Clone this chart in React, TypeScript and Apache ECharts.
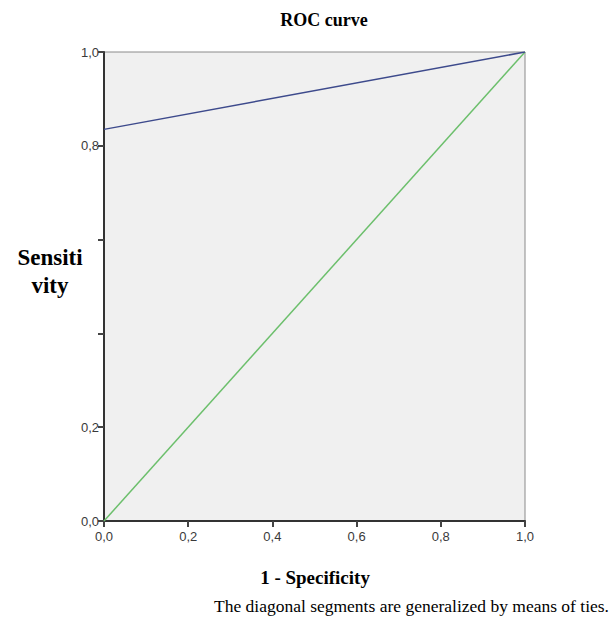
import React, { useEffect, useRef } from "react";
import * as echarts from "echarts";

const rocCurve: [number, number][] = [
  [0, 0.835],
  [1, 1],
];
const referenceLine: [number, number][] = [
  [0, 0],
  [1, 1],
];
const hiddenYLabels = [0.4, 0.6];

const fmt = (v: number) => v.toFixed(1).replace(".", ",");

export default function App() {
  const ref = useRef<HTMLDivElement>(null);
  useEffect(() => {
    if (!ref.current) return;
    const chart = echarts.init(ref.current, undefined, { renderer: "svg" });
    chart.setOption({
      animation: false,
      backgroundColor: "#ffffff",
      grid: {
        left: 104,
        right: 86,
        top: 52,
        bottom: 101,
        show: true,
        backgroundColor: "#f0f0f0",
        borderColor: "#8a8a8a",
        borderWidth: 1,
      },
      xAxis: {
        type: "value",
        min: 0,
        max: 1,
        interval: 0.2,
        splitLine: { show: false },
        axisLine: { show: true, lineStyle: { color: "#333", width: 2 } },
        axisTick: { show: true, length: 6, lineStyle: { color: "#444", width: 2 } },
        axisLabel: {
          formatter: (v: number) => fmt(v),
          color: "#3a3a3a",
          fontFamily: "Liberation Sans",
          fontSize: 13,
          margin: 9,
        },
      },
      yAxis: {
        type: "value",
        min: 0,
        max: 1,
        interval: 0.2,
        splitLine: { show: false },
        axisLine: { show: true, lineStyle: { color: "#333", width: 2 } },
        axisTick: { show: true, length: 6, lineStyle: { color: "#444", width: 2 } },
        axisLabel: {
          formatter: (v: number) =>
            hiddenYLabels.some((h) => Math.abs(h - v) < 1e-6) ? "" : fmt(v),
          color: "#3a3a3a",
          fontFamily: "Liberation Sans",
          fontSize: 13,
          margin: 5,
        },
      },
      series: [
        {
          type: "line",
          data: referenceLine,
          showSymbol: false,
          lineStyle: { color: "#6cbf6c", width: 1.5 },
          z: 2,
        },
        {
          type: "line",
          data: rocCurve,
          showSymbol: false,
          lineStyle: { color: "#3d4a8c", width: 1.5 },
          z: 3,
        },
      ],
      graphic: [
        {
          type: "text",
          x: 324,
          y: 20,
          style: {
            text: "ROC curve",
            fontFamily: "Liberation Serif",
            fontWeight: "bold",
            fontSize: 18,
            fill: "#000",
            align: "center",
            verticalAlign: "middle",
          },
        },
        {
          type: "text",
          x: 50,
          y: 271,
          style: {
            text: "Sensiti\nvity",
            fontFamily: "Liberation Serif",
            fontWeight: "bold",
            fontSize: 23,
            lineHeight: 28,
            fill: "#000",
            align: "center",
            verticalAlign: "middle",
          },
        },
        {
          type: "text",
          x: 315,
          y: 577,
          style: {
            text: "1 - Specificity",
            fontFamily: "Liberation Serif",
            fontWeight: "bold",
            fontSize: 19,
            fill: "#000",
            align: "center",
            verticalAlign: "middle",
          },
        },
        {
          type: "text",
          x: 609,
          y: 606,
          style: {
            text: "The diagonal segments are generalized by means of ties.",
            fontFamily: "Liberation Serif",
            fontSize: 17.5,
            fill: "#000",
            align: "right",
            verticalAlign: "middle",
          },
        },
      ],
    });
    return () => chart.dispose();
  }, []);
  return (
    <div
      ref={ref}
      style={{ position: "absolute", left: 0, top: 0, width: 611, height: 622 }}
    />
  );
}
